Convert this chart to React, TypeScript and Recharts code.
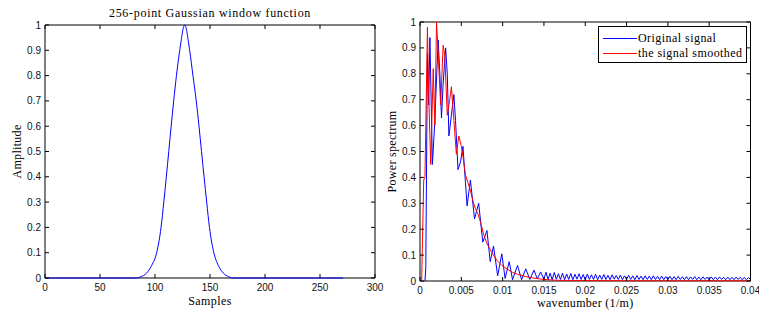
import React from 'react';
import { LineChart, Line, XAxis, YAxis, ReferenceArea, Legend } from 'recharts';

// ---------- Left chart: 256-point Gaussian window ----------
const gaussSamples = [0, 83, 87, 92.5, 97, 101.5, 105.5, 108, 110.3, 112.5, 114.7, 117, 119.5, 122.5, 127, 131.5, 134.5, 137.5, 140, 142.3, 144.6, 147, 149.5, 153.5, 157.5, 162, 167, 172, 271];
const gaussAmplitude = [0, 0, 0.005, 0.02, 0.05, 0.1, 0.2, 0.3, 0.4, 0.5, 0.6, 0.7, 0.8, 0.9, 1.0, 0.9, 0.8, 0.7, 0.6, 0.5, 0.4, 0.3, 0.2, 0.1, 0.05, 0.02, 0.005, 0, 0];
const leftXTicks = [0, 50, 100, 150, 200, 250, 300];
const unitYTicks = [0, 0.1, 0.2, 0.3, 0.4, 0.5, 0.6, 0.7, 0.8, 0.9, 1];

// ---------- Right chart: power spectrum ----------
const origWavenumber = [
  0.0006, 0.0007, 0.0009, 0.00105, 0.0012, 0.0015, 0.0018, 0.002, 0.0022, 0.0024, 0.0026, 0.0028,
  0.0031, 0.0033, 0.0035, 0.0038, 0.0041, 0.0043, 0.0046, 0.0049, 0.0052, 0.0055, 0.0057, 0.0061,
  0.0066, 0.0071, 0.0076, 0.0081, 0.0085, 0.0089, 0.0094, 0.0099, 0.0103, 0.0108, 0.0112, 0.0118,
  0.0123, 0.0128, 0.0133, 0.0138, 0.0142, 0.0146, 0.015,
  0.01525, 0.0155, 0.01575, 0.016, 0.01625, 0.0165, 0.01675, 0.017, 0.01725, 0.0175, 0.01775, 0.018,
  0.01825, 0.0185, 0.01875, 0.019, 0.01925, 0.0195, 0.01975, 0.02, 0.02025, 0.0205, 0.02075, 0.021,
  0.02125, 0.0215, 0.02175, 0.022, 0.02225, 0.0225, 0.02275, 0.023, 0.02325, 0.0235, 0.02375, 0.024,
  0.02425, 0.0245, 0.02475, 0.025, 0.02525, 0.0255, 0.02575, 0.026, 0.02625, 0.0265, 0.02675, 0.027,
  0.02725, 0.0275, 0.02775, 0.028, 0.02825, 0.0285, 0.02875, 0.029, 0.02925, 0.0295, 0.02975, 0.03,
  0.03025, 0.0305, 0.03075, 0.031, 0.03125, 0.0315, 0.03175, 0.032, 0.03225, 0.0325, 0.03275, 0.033,
  0.03325, 0.0335, 0.03375, 0.034, 0.03425, 0.0345, 0.03475, 0.035, 0.03525, 0.0355, 0.03575, 0.036,
  0.03625, 0.0365, 0.03675, 0.037, 0.03725, 0.0375, 0.03775, 0.038, 0.03825, 0.0385, 0.03875, 0.039,
  0.03925, 0.0395, 0.03975, 0.04,
];
const origPower = [
  0, 0.05, 0.88, 0.68, 0.94, 0.45, 0.62, 0.78, 0.93, 0.8, 0.63, 0.76,
  0.9, 0.8, 0.56, 0.64, 0.72, 0.62, 0.43, 0.46, 0.52, 0.38, 0.29, 0.39,
  0.24, 0.3, 0.15, 0.195, 0.075, 0.135, 0.02, 0.105, 0.01, 0.075, 0.005, 0.06,
  0.005, 0.047, 0.006, 0.042, 0.008, 0.035, 0.007,
  0.034, 0.006, 0.03, 0.005, 0.033, 0.007, 0.028, 0.006, 0.03, 0.005, 0.027, 0.006,
  0.029, 0.005, 0.026, 0.007, 0.028, 0.006, 0.025, 0.005, 0.027, 0.006, 0.024, 0.006,
  0.026, 0.005, 0.023, 0.006, 0.025, 0.006, 0.022, 0.005, 0.024, 0.007, 0.021, 0.006,
  0.023, 0.005, 0.02, 0.006, 0.022, 0.006, 0.02, 0.005, 0.021, 0.006, 0.019, 0.005,
  0.02, 0.006, 0.019, 0.005, 0.02, 0.006, 0.018, 0.005, 0.019, 0.005, 0.017, 0.006,
  0.018, 0.005, 0.017, 0.005, 0.018, 0.006, 0.016, 0.005, 0.017, 0.005, 0.016, 0.006,
  0.017, 0.005, 0.015, 0.005, 0.016, 0.006, 0.015, 0.005, 0.016, 0.005, 0.015, 0.005,
  0.016, 0.006, 0.014, 0.005, 0.015, 0.005, 0.014, 0.005, 0.015, 0.006, 0.014, 0.005,
  0.014, 0.005, 0.013, 0.006,
];
const smoothWavenumber = [
  0.0002, 0.00045, 0.0006, 0.0009, 0.00105, 0.0013, 0.0016, 0.0018, 0.002, 0.0022, 0.0025, 0.0028,
  0.003, 0.0033, 0.0036, 0.0038, 0.0041, 0.0044, 0.0047, 0.005, 0.0052, 0.0055, 0.0058, 0.0061,
  0.0064, 0.0067, 0.007, 0.0073, 0.0077, 0.0081, 0.0087, 0.0093, 0.0099, 0.0106, 0.0112, 0.0118,
  0.0128, 0.0138, 0.015, 0.0165, 0.018, 0.025, 0.04,
];
const smoothPower = [
  0, 0.39, 0.4, 0.98, 0.72, 0.45, 0.82, 0.6, 1.0, 0.88, 0.68, 0.91,
  0.87, 0.64, 0.7, 0.75, 0.62, 0.49, 0.56, 0.52, 0.48, 0.41, 0.38, 0.35,
  0.31, 0.28, 0.26, 0.23, 0.18, 0.145, 0.11, 0.08, 0.06, 0.045, 0.033, 0.026,
  0.017, 0.011, 0.006, 0.003, 0.002, 0.001, 0.001,
];
const rightXTicks = [0, 0.005, 0.01, 0.015, 0.02, 0.025, 0.03, 0.035, 0.04];

const gaussData = gaussSamples.map((x, i) => ({ x, y: gaussAmplitude[i] }));
const origData = origWavenumber.map((x, i) => ({ x, y: origPower[i] }));
const smoothData = smoothWavenumber.map((x, i) => ({ x, y: smoothPower[i] }));

const SANS = "'Liberation Sans', Arial, sans-serif";
const SERIF = "'Liberation Serif', 'Times New Roman', serif";
const TICK_LEN = 4;

type Box = { top: number; bottom: number; left: number; right: number };

const makeXTick = (box: Box) => (props: any) => {
  const { x, payload } = props;
  return (
    <g>
      <line x1={x} x2={x} y1={box.bottom} y2={box.bottom - TICK_LEN} stroke="#000" />
      <line x1={x} x2={x} y1={box.top} y2={box.top + TICK_LEN} stroke="#000" />
      <text x={x} y={box.bottom + 12.5} textAnchor="middle" fontFamily={SANS} fontSize={10} fill="#111">
        {payload.value}
      </text>
    </g>
  );
};

const makeYTick = (box: Box) => (props: any) => {
  const { y, payload } = props;
  return (
    <g>
      <line x1={box.left} x2={box.left + TICK_LEN} y1={y} y2={y} stroke="#000" />
      <line x1={box.right} x2={box.right - TICK_LEN} y1={y} y2={y} stroke="#000" />
      <text x={box.left - 4} y={y + 3.5} textAnchor="end" fontFamily={SANS} fontSize={10} fill="#111">
        {payload.value}
      </text>
    </g>
  );
};

const LEFT_BOX: Box = { top: 25, bottom: 278, left: 45, right: 375 };
const RIGHT_BOX: Box = { top: 22, bottom: 281, left: 40, right: 370.5 };

const renderLegend = (props: any) => {
  const payload = props.payload || [];
  return (
    <div
      style={{
        boxSizing: 'border-box',
        width: 149,
        height: 37,
        border: '1px solid #000',
        background: '#fff',
        paddingTop: 4,
      }}
    >
      {payload.map((p: any) => (
        <div key={p.value} style={{ display: 'flex', alignItems: 'center', height: 15 }}>
          <svg width={39} height={15} style={{ display: 'block' }}>
            <line x1={4} x2={38} y1={7.5} y2={7.5} stroke={p.color} strokeWidth={1} />
          </svg>
          <span style={{ fontFamily: SERIF, fontSize: 12, letterSpacing: 0.45, color: '#000', lineHeight: '15px', whiteSpace: 'nowrap' }}>
            {p.value}
          </span>
        </div>
      ))}
    </div>
  );
};

export default function App() {
  return (
    <div style={{ position: 'absolute', left: 0, top: 0, width: 759, height: 315, background: '#fff', overflow: 'hidden' }}>
      <div style={{ position: 'absolute', left: 0, top: 0 }}>
        <LineChart width={390} height={315} margin={{ top: 25, right: 15, bottom: 0, left: 0 }}>
          <XAxis
            type="number"
            dataKey="x"
            domain={[0, 300]}
            ticks={leftXTicks}
            interval={0}
            height={37}
            axisLine={false}
            tickLine={false}
            tick={makeXTick(LEFT_BOX)}
            label={{ value: 'Samples', position: 'insideBottom', offset: 10, fill: '#000', fontSize: 12, fontFamily: SERIF, letterSpacing: 0.4 }}
          />
          <YAxis
            type="number"
            domain={[0, 1]}
            ticks={unitYTicks}
            interval={0}
            width={45}
            axisLine={false}
            tickLine={false}
            tick={makeYTick(LEFT_BOX)}
            label={{ value: 'Amplitude', angle: -90, position: 'insideLeft', offset: 17, fill: '#000', fontSize: 12, fontFamily: SERIF, letterSpacing: 0.3, style: { textAnchor: 'middle' } }}
          />
          <ReferenceArea x1={0} x2={300} y1={0} y2={1} fill="none" fillOpacity={0} stroke="#000" strokeWidth={1} />
          <Line data={gaussData} dataKey="y" type="monotone" stroke="#0000ff" strokeWidth={1} dot={false} isAnimationActive={false} />
          <text x={210} y={17} textAnchor="middle" fontFamily={SERIF} fontSize={12} letterSpacing={0.7} fill="#000">
            256-point Gaussian window function
          </text>
        </LineChart>
      </div>
      <div style={{ position: 'absolute', left: 380, top: 0 }}>
        <LineChart width={379} height={315} margin={{ top: 22, right: 8.5, bottom: 0, left: 0 }}>
          <XAxis
            type="number"
            dataKey="x"
            domain={[0, 0.04]}
            ticks={rightXTicks}
            interval={0}
            height={34}
            axisLine={false}
            tickLine={false}
            tick={makeXTick(RIGHT_BOX)}
            label={{ value: 'wavenumber (1/m)', position: 'insideBottom', offset: 8, fill: '#000', fontSize: 12, fontFamily: SERIF, letterSpacing: 0.3 }}
          />
          <YAxis
            type="number"
            domain={[0, 1]}
            ticks={unitYTicks}
            interval={0}
            width={40}
            axisLine={false}
            tickLine={false}
            tick={makeYTick(RIGHT_BOX)}
            label={{ value: 'Power spectrum', angle: -90, position: 'insideLeft', offset: 11.5, fill: '#000', fontSize: 12, fontFamily: SERIF, letterSpacing: 0.3, style: { textAnchor: 'middle' } }}
          />
          <ReferenceArea x1={0} x2={0.04} y1={0} y2={1} fill="none" fillOpacity={0} stroke="#000" strokeWidth={1} />
          <Line data={origData} dataKey="y" name="Original signal" type="linear" stroke="#0000ff" strokeWidth={1} dot={false} isAnimationActive={false} />
          <Line data={smoothData} dataKey="y" name="the signal smoothed" type="linear" stroke="#ff0000" strokeWidth={1} dot={false} isAnimationActive={false} />
          <Legend
            layout="horizontal"
            verticalAlign="middle"
            align="center"
            content={renderLegend}
            wrapperStyle={{ left: 218, top: 26, width: 149, height: 37 }}
          />
        </LineChart>
      </div>
    </div>
  );
}
